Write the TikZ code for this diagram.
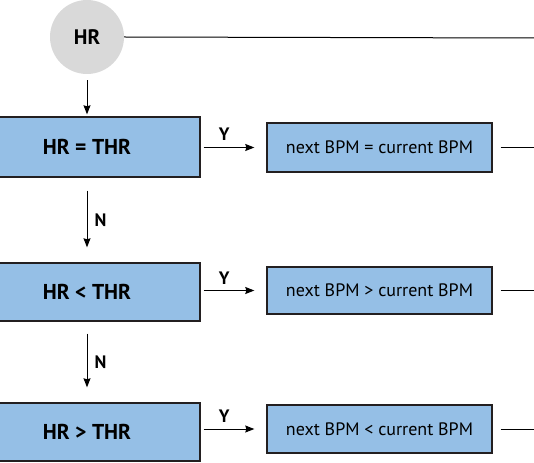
\documentclass[tikz,border=0pt]{standalone}
\usepackage{fontspec}
\setmainfont{PT Sans}
\usetikzlibrary{arrows.meta}
\definecolor{boxblue}{RGB}{149,191,230}
\definecolor{circgray}{RGB}{217,217,217}
\definecolor{edge}{RGB}{35,31,32}
\tikzset{
  cond/.style={draw=edge, line width=1.4pt, fill=boxblue, inner sep=0pt, minimum width=226pt, font=\bfseries\fontsize{21.5}{24}\selectfont},
  result/.style={draw=edge, line width=1.4pt, fill=boxblue, inner sep=0pt, minimum width=225pt, font=\fontsize{18}{21}\selectfont},
  arr/.style={line width=1pt, -{Stealth[length=9pt,width=7pt,inset=1pt]}},
  ln/.style={line width=1pt},
  lab/.style={font=\bfseries\fontsize{18}{21}\selectfont, inner sep=0pt}
}
\begin{document}
\begin{tikzpicture}[x=1pt,y=-1pt]
\useasboundingbox (0,0) rectangle (534,462);
\node[circle, fill=circgray, minimum size=74pt, inner sep=0pt, font=\bfseries\fontsize{21}{24}\selectfont] (hr) at (87,37) {HR};
\coordinate (topend) at (534,38);
\draw[ln] (hr.east) -- (topend);

\node[cond, minimum height=60pt] (b1) at (87,147) {HR = THR};
\node[cond, minimum height=58pt] (b2) at (87,292) {HR < THR};
\node[cond, minimum height=58pt] (b3) at (87,432) {HR > THR};

\node[result, minimum height=49pt] (r1) at (379.5,147.5) {next BPM = current BPM};
\node[result, minimum height=47pt] (r2) at (379.5,290.5) {next BPM > current BPM};
\node[result, minimum height=48pt] (r3) at (379.5,429) {next BPM < current BPM};

\draw[arr, shorten <=6pt, shorten >=2pt] (hr.south) -- (b1.north);
\draw[arr, shorten <=13pt, shorten >=15pt] (b1.south) -- (b2.north) node[midway, right=7pt, lab] {N};
\draw[arr, shorten <=12pt, shorten >=15pt] (b2.south) -- (b3.north) node[midway, right=7pt, lab] {N};

\draw[arr, shorten <=3pt, shorten >=12pt] (b1.east |- r1.west) -- (r1.west) node[pos=0.36, above=6pt, lab] {Y};
\draw[arr, shorten <=3pt, shorten >=12pt] (b2.east |- r2.west) -- (r2.west) node[pos=0.36, above=6pt, lab] {Y};
\draw[arr, shorten <=3pt, shorten >=12pt] (b3.east |- r3.west) -- (r3.west) node[pos=0.36, above=6pt, lab] {Y};

\coordinate (e1) at (534,147.5);
\coordinate (e2) at (534,290.5);
\coordinate (e3) at (534,429);
\draw[ln, shorten <=8pt] (r1.east) -- (e1);
\draw[ln, shorten <=8pt] (r2.east) -- (e2);
\draw[ln, shorten <=8pt] (r3.east) -- (e3);
\end{tikzpicture}
\end{document}
